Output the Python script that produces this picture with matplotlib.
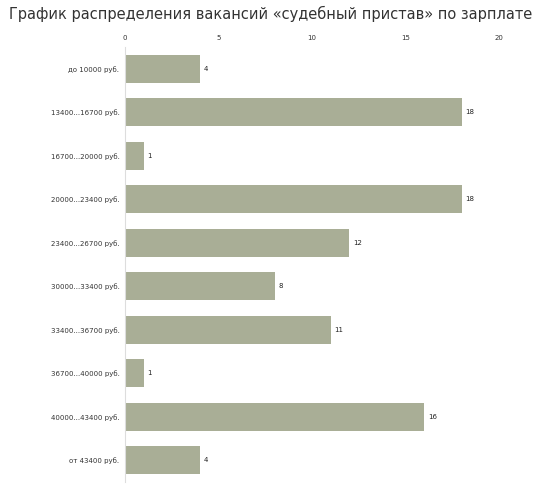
import matplotlib
matplotlib.use("Agg")
import matplotlib.pyplot as plt

categories = ["до 10000 руб.", "13400...16700 руб.", "16700...20000 руб.",
              "20000...23400 руб.", "23400...26700 руб.", "30000...33400 руб.",
              "33400...36700 руб.", "36700...40000 руб.", "40000...43400 руб.",
              "от 43400 руб."]
counts = [4, 18, 1, 18, 12, 8, 11, 1, 16, 4]
ticks = [0, 5, 10, 15, 20]

fig = plt.figure(figsize=(5.41, 5.0), dpi=100)
# axis spans x 125..499 px, y 47..482 px
ax = fig.add_axes([125 / 541, 1 - 482 / 500, 374 / 541, 435 / 500])

ypos = list(range(len(categories)))
ax.barh(ypos, counts, height=0.65, color="#a9ae96")
for y, v in zip(ypos, counts):
    ax.text(v + 0.2, y, str(v), va="center", ha="left", fontsize=5, color="#222222")

ax.set_xlim(0, 20)
ax.set_ylim(len(categories) - 0.5, -0.5)
ax.set_yticks(ypos)
ax.set_yticklabels(categories, fontsize=5, color="#333333")
ax.set_xticks(ticks)
ax.set_xticklabels([str(t) for t in ticks], fontsize=5, color="#333333")
ax.xaxis.tick_top()
ax.tick_params(length=0, pad=4)
for side in ["top", "right", "bottom"]:
    ax.spines[side].set_visible(False)
ax.spines["left"].set_color("#dddddd")

fig.text(0.5, 1 - 14 / 500, "График распределения вакансий «судебный пристав» по зарплате",
         ha="center", va="center", fontsize=10.5, color="#333333")

fig.savefig("out.png", dpi=100)
